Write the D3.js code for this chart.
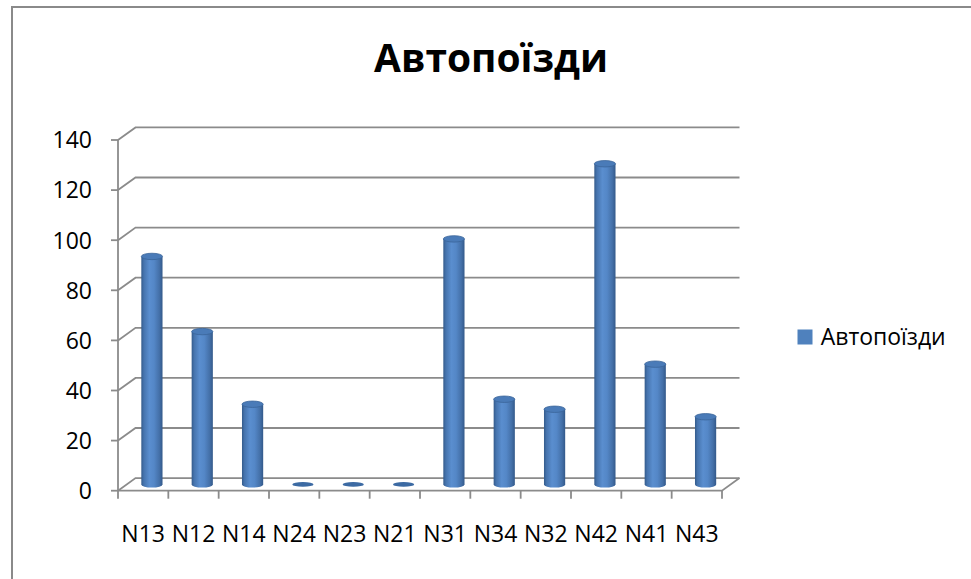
<!DOCTYPE html>
<html>
<head>
<meta charset="utf-8">
<script src="https://cdn.jsdelivr.net/npm/d3@7/dist/d3.min.js"></script>
<style>
  html, body { margin: 0; padding: 0; background: #fff; }
  svg { display: block; }
  text { font-family: "Open Sans", "Noto Sans", sans-serif; fill: #000; }
</style>
</head>
<body>
<svg id="chart" width="971" height="579"></svg>
<script>
// Data
const chartTitle = "Автопоїзди";
const seriesName = "Автопоїзди";
const categories = ["N13", "N12", "N14", "N24", "N23", "N21", "N31", "N34", "N32", "N42", "N41", "N43"];
const values = [91, 61, 32, 0, 0, 0, 98, 34, 30, 128, 48, 27];
const yTicks = [0, 20, 40, 60, 80, 100, 120, 140];

const svg = d3.select("#chart");

// Outer chart frame
svg.append("rect")
  .attr("x", 12).attr("y", 7).attr("width", 1100).attr("height", 1000)
  .attr("fill", "#fff").attr("stroke", "#8a8a8a").attr("stroke-width", 2);

// Plot geometry (front plane) and depth offset of the 3D box
const plot = { left: 118, right: 722, top: 140, bottom: 490.7 };
const depth = { dx: 17.5, dy: -12.6 };

const x = d3.scaleBand().domain(categories).range([plot.left, plot.right]).padding(0);
const y = d3.scaleLinear().domain([0, 140]).range([plot.bottom, plot.top]);

const gridColor = "#8b8b8b";
const grid = svg.append("g").attr("fill", "none").attr("stroke", gridColor).attr("stroke-width", 1.8);

// Side wall diagonals and back wall gridlines
yTicks.forEach(t => {
  const fy = y(t);
  grid.append("path")
    .attr("d", `M${plot.left},${fy} L${plot.left + depth.dx},${fy + depth.dy} L${plot.right + depth.dx},${fy + depth.dy}`);
});

// Floor: front edge and right diagonal
grid.append("path")
  .attr("d", `M${plot.left},${plot.bottom} L${plot.right},${plot.bottom} L${plot.right + depth.dx},${plot.bottom + depth.dy}`);

// Front value axis with outward ticks
const yAxis = svg.append("g").attr("stroke", gridColor).attr("stroke-width", 1.8);
yAxis.append("line")
  .attr("x1", plot.left).attr("x2", plot.left)
  .attr("y1", y(140)).attr("y2", plot.bottom + 8);
yAxis.selectAll("line.tick").data(yTicks).enter().append("line")
  .attr("class", "tick")
  .attr("x1", plot.left - 7).attr("x2", plot.left)
  .attr("y1", d => y(d)).attr("y2", d => y(d));

// Category tick marks at band boundaries
const bounds = categories.map(c => x(c)).concat([plot.right]);
yAxis.selectAll("line.ctick").data(bounds.slice(1)).enter().append("line")
  .attr("class", "ctick")
  .attr("x1", d => d).attr("x2", d => d)
  .attr("y1", plot.bottom).attr("y2", plot.bottom + 8);

// Value labels
svg.append("g").selectAll("text").data(yTicks).enter().append("text")
  .attr("x", 92).attr("y", d => y(d) + 8.3)
  .attr("text-anchor", "end")
  .attr("font-size", 23)
  .text(d => d);

// Category labels
svg.append("g").selectAll("text").data(categories).enter().append("text")
  .attr("x", d => x(d) + x.bandwidth() / 2)
  .attr("y", 541.7)
  .attr("text-anchor", "middle")
  .attr("font-size", 23)
  .text(d => d);

// Cylinder shading
const defs = svg.append("defs");
const grad = defs.append("linearGradient").attr("id", "cyl").attr("x1", "0").attr("x2", "1").attr("y1", "0").attr("y2", "0");
[[0, "#345b8b"], [0.12, "#4674ae"], [0.38, "#5a8ecf"], [0.6, "#5487c7"], [0.85, "#4470a8"], [1, "#33598a"]]
  .forEach(([o, c]) => grad.append("stop").attr("offset", o).attr("stop-color", c));

const rx = 10.6, ry = 3.2;
const bars = svg.append("g");
categories.forEach((c, i) => {
  const v = values[i];
  const cx = x(c) + x.bandwidth() / 2 + depth.dx / 2;
  const yb = y(0) + depth.dy / 2;
  const yt = y(v) + depth.dy / 2;
  if (v > 0) {
    bars.append("path")
      .attr("d", `M${cx - rx},${yt} L${cx - rx},${yb} A${rx},${ry} 0 0 0 ${cx + rx},${yb} L${cx + rx},${yt} Z`)
      .attr("fill", "url(#cyl)");
    bars.append("ellipse")
      .attr("cx", cx).attr("cy", yt).attr("rx", rx).attr("ry", ry)
      .attr("fill", "#4a7bb8").attr("stroke", "#3a6599").attr("stroke-width", 0.8);
  } else {
    bars.append("ellipse")
      .attr("cx", cx).attr("cy", yb).attr("rx", rx).attr("ry", ry * 0.75)
      .attr("fill", "#3c6aa3");
  }
});

// Title
svg.append("text")
  .attr("x", 491).attr("y", 71.7)
  .attr("text-anchor", "middle")
  .attr("font-size", 38.5).attr("font-weight", "bold")
  .attr("textLength", 234).attr("lengthAdjust", "spacingAndGlyphs")
  .text(chartTitle);

// Legend
const legend = svg.append("g");
legend.append("rect")
  .attr("x", 797.5).attr("y", 329.5).attr("width", 15).attr("height", 15)
  .attr("fill", "#4f81bd");
legend.append("text")
  .attr("x", 820.7).attr("y", 345)
  .attr("font-size", 23)
  .attr("textLength", 125).attr("lengthAdjust", "spacingAndGlyphs")
  .text(seriesName);
</script>
</body>
</html>
